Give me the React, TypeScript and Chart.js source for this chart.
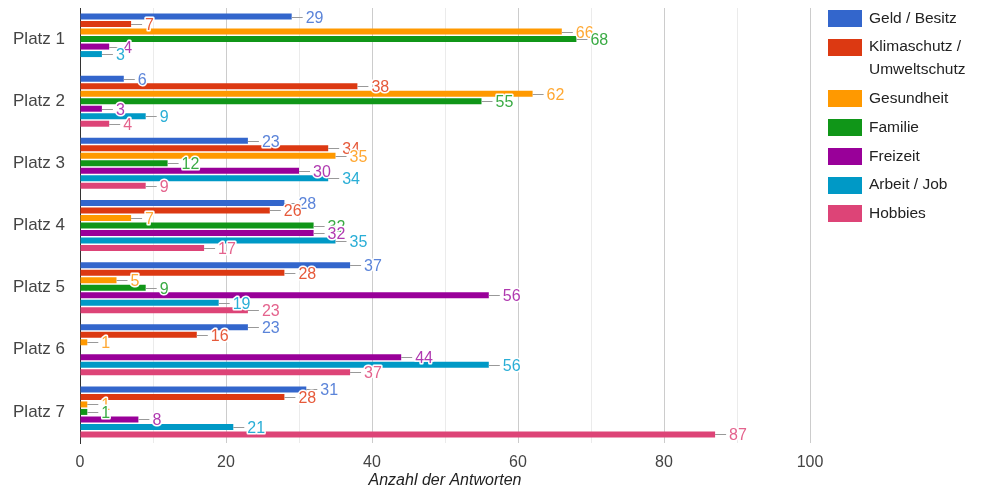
import React, { useEffect, useRef } from "react";
import { Chart, registerables } from "chart.js";

Chart.register(...registerables);

const categories = ["Platz 1", "Platz 2", "Platz 3", "Platz 4", "Platz 5", "Platz 6", "Platz 7"];
const seriesNames = [
  "Geld / Besitz",
  "Klimaschutz / Umweltschutz",
  "Gesundheit",
  "Familie",
  "Freizeit",
  "Arbeit / Job",
  "Hobbies",
];
const geld = [29, 6, 23, 28, 37, 23, 31];
const klima = [7, 38, 34, 26, 28, 16, 28];
const gesundheit = [66, 62, 35, 7, 5, 1, 1];
const familie = [68, 55, 12, 32, 9, 0, 1];
const freizeit = [4, 3, 30, 32, 56, 44, 8];
const arbeit = [3, 9, 34, 35, 19, 56, 21];
const hobbies = [0, 4, 9, 17, 23, 37, 87];
const seriesValues = [geld, klima, gesundheit, familie, freizeit, arbeit, hobbies];
const xMin = 0;
const xMax = 100;
const xStep = 10;
const xLabelStep = 20;
const axisTitle = "Anzahl der Antworten";

const barColors = ["#3366cc", "#dc3912", "#ff9900", "#109618", "#990099", "#0099c6", "#dd4477"];
const labelColors = ["#5b84d9", "#e65a3b", "#ffa833", "#3aab44", "#b03ab0", "#2aaed6", "#e4638d"];

const FONT = "'Liberation Sans', Arial, sans-serif";

const labelPlugin = {
  id: "valueLabels",
  afterDatasetsDraw(chart: any) {
    const ctx = chart.ctx;
    ctx.save();
    ctx.font = `16px ${FONT}`;
    ctx.textBaseline = "middle";
    ctx.textAlign = "left";
    chart.data.datasets.forEach((ds: any, i: number) => {
      const meta = chart.getDatasetMeta(i);
      meta.data.forEach((bar: any, j: number) => {
        const v = ds.data[j];
        if (!v) return;
        const x = bar.x;
        const y = Math.round(bar.y) + 0.5;
        ctx.strokeStyle = "#999999";
        ctx.lineWidth = 1;
        ctx.beginPath();
        ctx.moveTo(x, y);
        ctx.lineTo(x + 11, y);
        ctx.stroke();
        const t = String(v);
        ctx.lineWidth = 3;
        ctx.strokeStyle = "#ffffff";
        ctx.lineJoin = "round";
        ctx.strokeText(t, x + 14, y + 1);
        ctx.fillStyle = labelColors[i];
        ctx.fillText(t, x + 14, y + 1);
      });
    });
    ctx.restore();
  },
};

const legendPlugin = {
  id: "sideLegend",
  afterDraw(chart: any) {
    const ctx = chart.ctx;
    ctx.save();
    ctx.font = `15.5px ${FONT}`;
    ctx.textBaseline = "middle";
    ctx.textAlign = "left";
    const boxX = 828;
    const textX = 869;
    const maxW = 106;
    let y = 18.5;
    seriesNames.forEach((name, i) => {
      const words = name.split(" ");
      const lines: string[] = [];
      let cur = "";
      words.forEach((w) => {
        const test = cur ? cur + " " + w : w;
        if (ctx.measureText(test).width > maxW && cur) {
          lines.push(cur);
          cur = w;
        } else cur = test;
      });
      if (cur) lines.push(cur);
      ctx.fillStyle = barColors[i];
      ctx.fillRect(boxX, Math.round(y - 8.5), 34, 17);
      ctx.fillStyle = "#222222";
      lines.forEach((ln, k) => ctx.fillText(ln, textX, y + k * 23));
      y += 28.7 + (lines.length - 1) * 23;
    });
    ctx.restore();
  },
};

export default function App() {
  const ref = useRef<HTMLCanvasElement>(null);
  useEffect(() => {
    const chart = new Chart(ref.current as HTMLCanvasElement, {
      type: "bar",
      data: {
        labels: categories,
        datasets: seriesNames.map((n, i) => ({
          label: n,
          data: seriesValues[i],
          backgroundColor: barColors[i],
          borderWidth: 0,
          categoryPercentage: 0.845,
          barPercentage: 0.8,
        })),
      },
      options: {
        indexAxis: "y",
        responsive: false,
        animation: false,
        layout: { padding: { left: 0, right: 172, top: 8, bottom: 0 } },
        plugins: { legend: { display: false }, tooltip: { enabled: false } },
        scales: {
          x: {
            min: xMin,
            max: xMax,
            afterFit: (s: any) => {
              s.height = 50;
              s.paddingLeft = 0;
              s.paddingRight = 0;
            },
            ticks: {
              stepSize: xStep,
              padding: 10,
              autoSkip: false,
              maxRotation: 0,
              color: "#444444",
              font: { family: FONT, size: 16 },
              callback: (v: any) => (Number(v) % xLabelStep === 0 ? String(v) : ""),
            },
            grid: {
              drawTicks: false,
              color: (c: any) => (c.tick && c.tick.value % xLabelStep === 0 ? "#cccccc" : "#ebebeb"),
            },
            border: { display: false },
            title: {
              display: true,
              text: axisTitle,
              color: "#222222",
              font: { family: FONT, size: 16, style: "italic" },
              padding: { top: 0, bottom: 3 },
            },
          },
          y: {
            afterFit: (s: any) => {
              s.width = 80;
              s.paddingTop = 0;
              s.paddingBottom = 0;
            },
            ticks: {
              padding: 15,
              color: "#444444",
              font: { family: FONT, size: 17 },
            },
            grid: { display: false, drawTicks: false },
            border: { display: true, color: "#333333", width: 1 },
          },
        },
      },
      plugins: [labelPlugin, legendPlugin],
    } as any);
    return () => chart.destroy();
  }, []);
  return (
    <div style={{ position: "absolute", left: 0, top: 0, width: 982, height: 493, background: "#fff" }}>
      <canvas ref={ref} width={982} height={493} />
    </div>
  );
}
